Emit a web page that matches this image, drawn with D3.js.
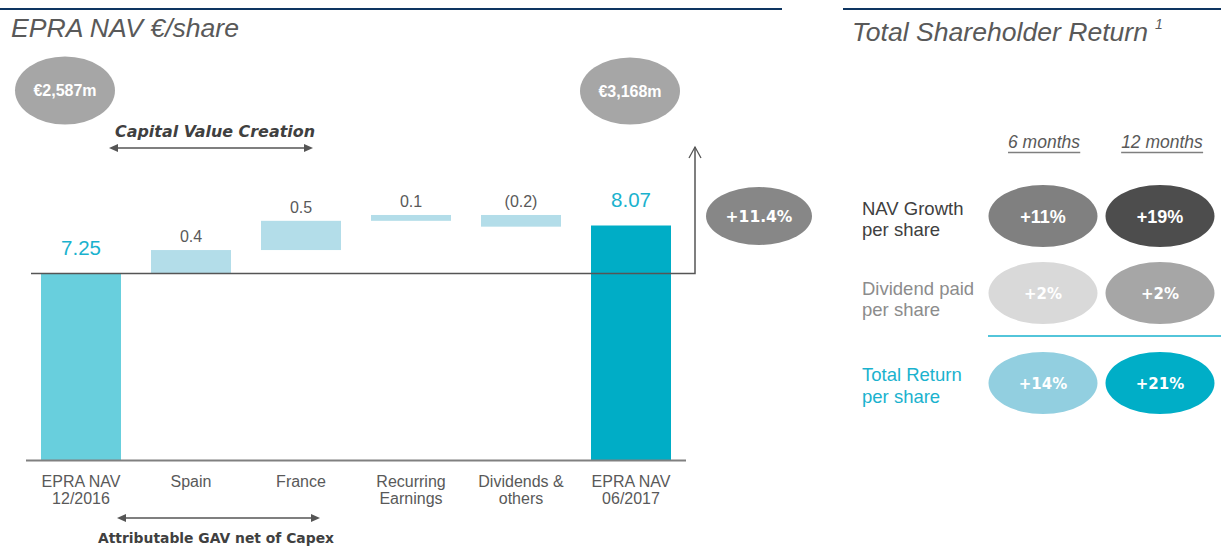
<!DOCTYPE html>
<html>
<head>
<meta charset="utf-8">
<script src="https://cdn.jsdelivr.net/npm/d3@7"></script>
<style>
  html, body { margin: 0; padding: 0; background: #fff; }
  svg { display: block; }
</style>
</head>
<body>
<svg id="chart" width="1221" height="548"></svg>
<script>
// ---- Waterfall data: EPRA NAV per share bridge ----
const categories = [
  ["EPRA NAV", "12/2016"],
  ["Spain"],
  ["France"],
  ["Recurring", "Earnings"],
  ["Dividends &", "others"],
  ["EPRA NAV", "06/2017"]
];
const barKinds = ["total", "step", "step", "step", "step", "total"];
const barValues = [7.25, 0.4, 0.5, 0.1, -0.2, 8.07];
const valueLabels = ["7.25", "0.4", "0.5", "0.1", "(0.2)", "8.07"];
const axisBase = 4.05;

// ---- Market value bubbles and growth ----
const navTotals = ["€2,587m", "€3,168m"];
const navGrowthLabel = "+11.4%";

// ---- Total shareholder return table ----
const tsrPeriods = ["6 months", "12 months"];
const tsrRowLabels = [
  ["NAV Growth", "per share"],
  ["Dividend paid", "per share"],
  ["Total Return", "per share"]
];
const navGrowthPct = [11, 19];
const dividendPct = [2, 2];
const totalReturnPct = [14, 21];

const svg = d3.select("#chart");
const navy = "#0e3561";
const ink = "#595959";
const cyanDark = "#00adc6";
const cyanLight = "#68cfdd";
const stepFill = "#b3dde9";
const arial = "'Liberation Sans', Arial, sans-serif";
const narrow = "'Liberation Sans Narrow', 'Arial Narrow', 'Liberation Sans', sans-serif";
const verdana = "'DejaVu Sans', Verdana, sans-serif";

// ---- Header rules and titles ----
svg.append("line").attr("x1", 0).attr("x2", 782).attr("y1", 9).attr("y2", 9)
  .attr("stroke", navy).attr("stroke-width", 2);
svg.append("line").attr("x1", 843).attr("x2", 1221).attr("y1", 9).attr("y2", 9)
  .attr("stroke", navy).attr("stroke-width", 2);

svg.append("text").attr("x", 11).attr("y", 37)
  .attr("font-family", arial)
  .attr("font-style", "italic").attr("font-size", 26).attr("fill", "#595959")
  .attr("textLength", 228).attr("lengthAdjust", "spacingAndGlyphs")
  .text("EPRA NAV €/share");

svg.append("text").attr("x", 852).attr("y", 41)
  .attr("font-family", arial)
  .attr("font-style", "italic").attr("font-size", 26).attr("fill", "#595959")
  .attr("textLength", 296).attr("lengthAdjust", "spacingAndGlyphs")
  .text("Total Shareholder Return");
svg.append("text").attr("x", 1155).attr("y", 29)
  .attr("font-family", arial)
  .attr("font-style", "italic").attr("font-size", 14).attr("fill", "#595959")
  .text("1");

// ---- Waterfall scales ----
const x = d3.scaleBand().domain(d3.range(categories.length))
  .range([26, 686]).paddingInner(30 / 110).paddingOuter(15 / 110);
const y = d3.scaleLinear().domain([axisBase, 8.07]).range([460.5, 225.5]);

// running totals for the floating steps
let running = 0;
const bars = barValues.map((v, i) => {
  let lo, hi;
  if (barKinds[i] === "total") {
    lo = axisBase; hi = v; running = v;
  } else {
    const start = running; running += v;
    lo = Math.min(start, running); hi = Math.max(start, running);
  }
  return { i, v, lo, hi, kind: barKinds[i], label: valueLabels[i] };
});

svg.append("g").selectAll("rect").data(bars).join("rect")
  .attr("x", d => x(d.i))
  .attr("width", x.bandwidth())
  .attr("y", d => y(d.hi))
  .attr("height", d => y(d.lo) - y(d.hi))
  .attr("fill", d => d.kind === "total" ? (d.i === 0 ? cyanLight : cyanDark) : stepFill);

// value labels
svg.append("g").selectAll("text").data(bars).join("text")
  .attr("x", d => x(d.i) + x.bandwidth() / 2)
  .attr("y", d => d.kind === "total" ? y(d.hi) - 18.5 : y(d.hi) - 8)
  .attr("text-anchor", "middle")
  .attr("font-family", arial)
  .attr("font-size", d => d.kind === "total" ? 20.5 : 16)
  .attr("fill", d => d.kind === "total" ? "#1ab2ce" : ink)
  .text(d => d.label);

// bottom axis
const xAxis = d3.axisBottom(x).tickSize(0).tickFormat(() => "");
const axisG = svg.append("g").attr("transform", "translate(0,460.5)").call(xAxis);
axisG.select(".domain").attr("stroke", "#808080").attr("stroke-width", 2)
  .attr("d", "M26,0H686");
axisG.selectAll(".tick text").remove();
axisG.selectAll(".tick").each(function (d) {
  const t = d3.select(this).append("text")
    .attr("text-anchor", "middle")
    .attr("font-family", narrow)
    .attr("font-size", 16).attr("fill", ink);
  categories[d].forEach((line, k) => {
    t.append("tspan").attr("x", 0).attr("y", 26 + k * 17).text(line);
  });
});

// reference line at opening NAV, rising into an arrow
const refY = y(barValues[0]);
svg.append("path")
  .attr("d", `M31,${refY}H695V147`)
  .attr("fill", "none").attr("stroke", "#555").attr("stroke-width", 1.5);
svg.append("path")
  .attr("d", "M689,158L695,147L701,158")
  .attr("fill", "none").attr("stroke", "#555").attr("stroke-width", 1.3);

// double-headed arrows
function doubleArrow(x1, x2, yy) {
  svg.append("line").attr("x1", x1 + 6).attr("x2", x2 - 6).attr("y1", yy).attr("y2", yy)
    .attr("stroke", "#555").attr("stroke-width", 1.5);
  svg.append("path").attr("d", `M${x1},${yy}L${x1 + 9},${yy - 4}L${x1 + 9},${yy + 4}Z`).attr("fill", "#555");
  svg.append("path").attr("d", `M${x2},${yy}L${x2 - 9},${yy - 4}L${x2 - 9},${yy + 4}Z`).attr("fill", "#555");
}
doubleArrow(109, 313, 148);
svg.append("text").attr("x", 215).attr("y", 137).attr("text-anchor", "middle")
  .attr("font-family", verdana).attr("font-weight", "bold")
  .attr("font-style", "italic").attr("font-size", 15.5).attr("fill", "#404040")
  .attr("textLength", 200).attr("lengthAdjust", "spacingAndGlyphs")
  .text("Capital Value Creation");

doubleArrow(117, 320, 518);
svg.append("text").attr("x", 216).attr("y", 543).attr("text-anchor", "middle")
  .attr("font-family", verdana).attr("font-weight", "bold")
  .attr("font-size", 13.5).attr("fill", "#404040")
  .attr("textLength", 236).attr("lengthAdjust", "spacingAndGlyphs")
  .text("Attributable GAV net of Capex");

// ---- Bubbles ----
function bubble(cx, cy, rx, ry, fill, label, font, size, dy) {
  svg.append("ellipse").attr("cx", cx).attr("cy", cy).attr("rx", rx).attr("ry", ry).attr("fill", fill);
  svg.append("text").attr("x", cx).attr("y", cy + dy).attr("text-anchor", "middle")
    .attr("font-family", font).attr("font-weight", "bold").attr("font-size", size)
    .attr("fill", "#fff").text(label);
}
bubble(65, 90.5, 50, 34, "#a6a6a6", navTotals[0], arial, 16, 5.5);
bubble(630, 91, 50, 33.5, "#a6a6a6", navTotals[1], arial, 16, 5.5);
bubble(759, 216, 53, 29, "#878787", navGrowthLabel, verdana, 15.5, 5.5);

// ---- TSR table ----
const colX = d3.scalePoint().domain(tsrPeriods).range([1043, 1160]);

const headers = svg.append("g").selectAll("text").data(tsrPeriods).join("text")
  .attr("x", d => colX(d) + (d === tsrPeriods[1] ? 2 : 1))
  .attr("y", 148).attr("text-anchor", "middle")
  .attr("font-family", arial).attr("font-style", "italic").attr("font-size", 17.5)
  .attr("fill", ink)
  .text(d => d);
// underline each column heading
headers.each(function () {
  const bb = this.getBBox();
  svg.append("line").attr("x1", bb.x).attr("x2", bb.x + bb.width)
    .attr("y1", 152.5).attr("y2", 152.5).attr("stroke", "#7f7f7f").attr("stroke-width", 1.3);
});

const tsrRows = [
  { label: tsrRowLabels[0], vals: navGrowthPct, cy: 216, labelColor: "#404040", lines: [215, 236],
    fills: ["#808080", "#4d4d4d"], font: arial, size: 18, dy: 6.5 },
  { label: tsrRowLabels[1], vals: dividendPct, cy: 293, labelColor: "#8c8c8c", lines: [295, 316],
    fills: ["#d9d9d9", "#a6a6a6"], font: verdana, size: 15, dy: 5.5 },
  { label: tsrRowLabels[2], vals: totalReturnPct, cy: 383, labelColor: "#1ab2ce", lines: [381, 403],
    fills: ["#92cfe0", "#00aec7"], font: verdana, size: 15, dy: 5.5 }
];

tsrRows.forEach(r => {
  const t = svg.append("text").attr("font-family", arial).attr("font-size", 18.5).attr("fill", r.labelColor);
  r.label.forEach((line, k) => t.append("tspan").attr("x", 862).attr("y", r.lines[k]).text(line));
  r.vals.forEach((v, k) => {
    bubble(colX(tsrPeriods[k]), r.cy, 54.5, 31, r.fills[k], "+" + v + "%", r.font, r.size, r.dy);
  });
});

svg.append("line").attr("x1", 988).attr("x2", 1221).attr("y1", 336).attr("y2", 336)
  .attr("stroke", "#1ab2ce").attr("stroke-width", 1.5);
</script>
</body>
</html>
